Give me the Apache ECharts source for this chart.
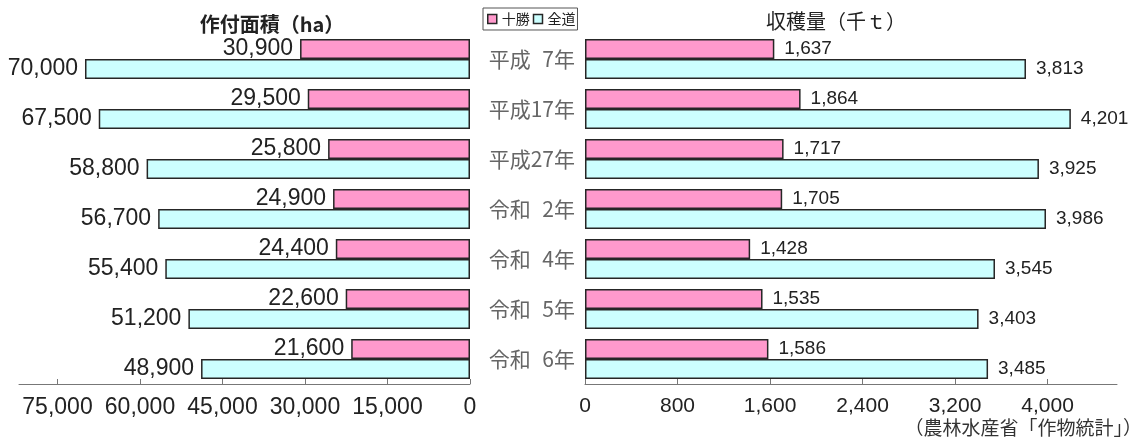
<!DOCTYPE html>
<html><head><meta charset="utf-8">
<script src="https://cdn.jsdelivr.net/npm/echarts@6/dist/echarts.min.js"></script>
<style>html,body{margin:0;padding:0;background:#fff}#c{width:1136px;height:437px}</style>
</head><body><div id="c"></div>
<script>
const categories = ['平成\u20077年','平成17年','平成27年','令和\u20072年','令和\u20074年','令和\u20075年','令和\u20076年'];
const areaTokachi = [30900,29500,25800,24900,24400,22600,21600];
const areaHokkaido = [70000,67500,58800,56700,55400,51200,48900];
const yieldTokachi = [1637,1864,1717,1705,1428,1535,1586];
const yieldHokkaido = [3813,4201,3925,3986,3545,3403,3485];
const areaTicks = [0,15000,30000,45000,60000,75000];
const yieldTicks = [0,800,1600,2400,3200,4000];
const seriesNames = ['十勝','全道'];
const titles = ['作付面積（ha）','収穫量（千ｔ）'];
const sourceText = '（農林水産省「作物統計」）';

const PINK = '#ff99cc', CYAN = '#ccffff', EDGE = '#262626';
const NUMF = '"Liberation Sans", Arial, sans-serif';
const JPF = '"Noto Sans CJK JP", sans-serif';
const fmt = v => Number(v).toLocaleString('en-US');

function bar(name, data, color, xi, pos, dist, fs) {
  return {
    type: 'bar', name, data, xAxisIndex: xi, yAxisIndex: xi,
    barWidth: 20, barGap: '0%',
    itemStyle: { color, borderColor: EDGE, borderWidth: 1.5 },
    label: { show: true, position: pos, distance: dist, formatter: p => fmt(p.value),
      fontFamily: NUMF, fontSize: fs, color: '#222' },
    emphasis: { disabled: true }, animation: false
  };
}
function xAxis(gi, inverse, max, ticks, fs) {
  return {
    type: 'value', gridIndex: gi, inverse, min: 0, max,
    splitLine: { show: false },
    axisLine: { show: true, lineStyle: { color: '#777', width: 1 } },
    axisTick: { show: true, inside: true, length: 5, lineStyle: { color: '#777' }, customValues: ticks },
    axisLabel: { fontFamily: NUMF, fontSize: fs, color: '#222', margin: 12, formatter: fmt, customValues: ticks }
  };
}
const chart = echarts.init(document.getElementById('c'));
chart.setOption({
  animation: false,
  grid: [
    { left: 19, right: 666, top: 34, height: 350 },
    { left: 585, right: 19, top: 34, height: 350 }
  ],
  xAxis: [ xAxis(0, true, 82000, areaTicks, 23), xAxis(1, false, 4600, yieldTicks, 21) ],
  yAxis: [
    { type: 'category', gridIndex: 0, data: categories, inverse: true,
      axisLine: { show: false }, axisTick: { show: false }, axisLabel: { show: false } },
    { type: 'category', gridIndex: 1, data: categories, inverse: true,
      axisLine: { show: false }, axisTick: { show: false },
      axisLabel: { show: true, align: 'right', margin: 10, fontFamily: JPF, fontSize: 21, color: '#666' } }
  ],
  legend: {
    left: 483, top: 8, data: seriesNames, orient: 'horizontal',
    borderColor: '#555', borderWidth: 1, padding: [4, 2, 4, 4], itemGap: 3,
    itemWidth: 9, itemHeight: 9, icon: 'rect',
    itemStyle: { borderColor: EDGE, borderWidth: 1.5 },
    textStyle: { fontFamily: JPF, fontSize: 14, color: '#222' },
    selectedMode: false
  },
  graphic: [
    { type: 'text', x: 272, y: 24, style: { text: titles[0], font: 'bold 20px ' + JPF, fill: '#222', textAlign: 'center', textVerticalAlign: 'middle' } },
    { type: 'text', x: 836, y: 21, style: { text: titles[1], font: '20px ' + JPF, fill: '#222', textAlign: 'center', textVerticalAlign: 'middle' } },
    { type: 'text', x: 1142, y: 428, style: { text: sourceText, font: '19px ' + JPF, fill: '#333', textAlign: 'right', textVerticalAlign: 'middle' } }
  ],
  series: [
    bar(seriesNames[0], areaTokachi, PINK, 0, 'left', 7, 23),
    bar(seriesNames[1], areaHokkaido, CYAN, 0, 'left', 7, 23),
    bar(seriesNames[0], yieldTokachi, PINK, 1, 'right', 10, 19),
    bar(seriesNames[1], yieldHokkaido, CYAN, 1, 'right', 10, 19)
  ]
});
</script></body></html>
